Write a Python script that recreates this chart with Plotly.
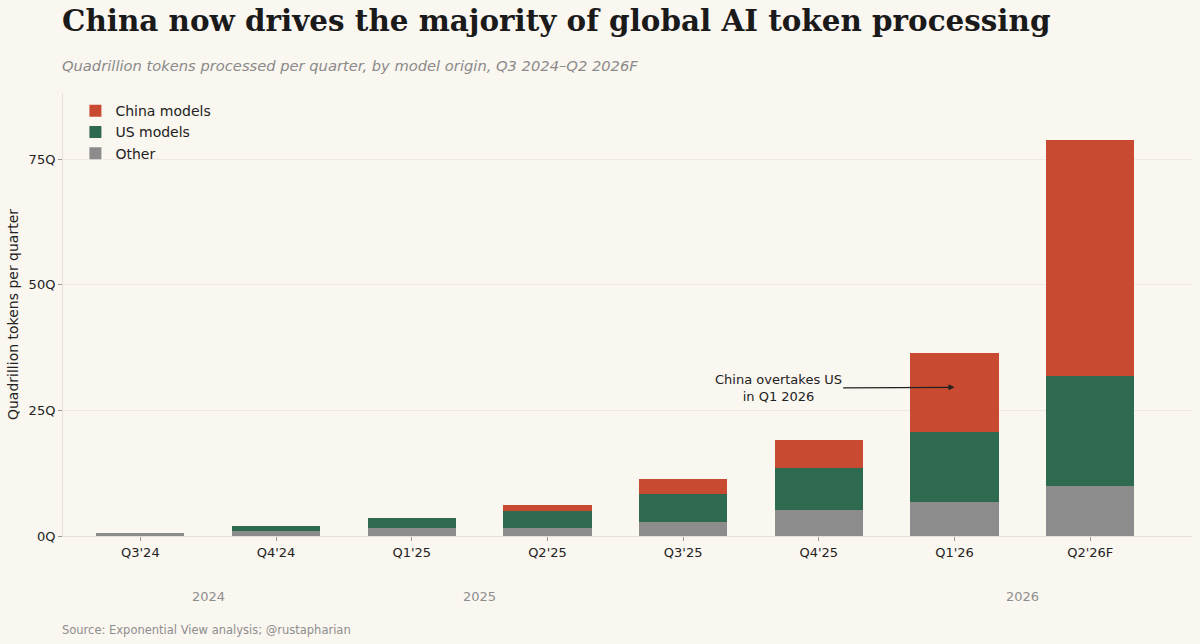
import plotly.graph_objects as go

quarters = ["Q3'24", "Q4'24", "Q1'25", "Q2'25", "Q3'25", "Q4'25", "Q1'26", "Q2'26F"]
other = [0.5, 1.0, 1.6, 1.6, 2.7, 5.2, 6.8, 9.9]
us_models = [0.0, 0.9, 1.9, 3.3, 5.7, 8.3, 14.0, 21.9]
china_models = [0.0, 0.0, 0.0, 1.3, 3.0, 5.7, 15.7, 47.0]

years = ["2024", "2025", "2026"]
year_pos = [0.5, 2.5, 6.5]

BG = "#FAF6F0"

fig = go.Figure()
fig.add_trace(go.Bar(x=quarters, y=other, name="Other", marker_color="#8C8C8C"))
fig.add_trace(go.Bar(x=quarters, y=us_models, name="US models", marker_color="#2D6A4F"))
fig.add_trace(go.Bar(x=quarters, y=china_models, name="China models", marker_color="#C84B31"))

fig.update_traces(marker_line_width=0, width=0.65)

fig.update_layout(
    barmode="stack",
    width=1200, height=644,
    paper_bgcolor=BG, plot_bgcolor=BG,
    margin=dict(l=63, r=8, t=93, b=108),
    font=dict(family="DejaVu Sans", size=13, color="#222222"),
    showlegend=True,
    legend=dict(
        x=0.011, y=0.995, xanchor="left", yanchor="top",
        traceorder="reversed", bgcolor="rgba(0,0,0,0)",
        font=dict(size=14, color="#222222"), itemwidth=30,
        tracegroupgap=0,
    ),
    title=dict(
        text="<b>China now drives the majority of global AI token processing</b>",
        font=dict(family="DejaVu Serif", size=29.4, color="#1a1a1a"),
        x=62 / 1200, xanchor="left", xref="container",
        y=1 - 21 / 644, yanchor="middle", yref="container",
    ),
)

fig.update_xaxes(
    type="category", range=[-0.57, 7.75],
    showgrid=False, showline=True, linecolor="#E6E0D8", linewidth=1,
    ticks="outside", ticklen=4, tickcolor="#999999",
    tickfont=dict(size=13, color="#222222"),
)
fig.update_yaxes(
    range=[0, 88.2], dtick=25, ticksuffix="Q",
    showgrid=True, gridcolor="#EFE9E1", gridwidth=1,
    showline=True, linecolor="#E6E0D8", linewidth=1,
    ticks="outside", ticklen=4, tickcolor="#999999",
    tickfont=dict(size=13, color="#222222"), zeroline=False,
    title=dict(text="Quadrillion tokens per quarter", font=dict(size=14, color="#222222"), standoff=6),
)

fig.add_annotation(
    xref="paper", yref="paper", x=0, y=1 + 28 / 443, xshift=-3,
    xanchor="left", yanchor="middle", showarrow=False,
    text="<i>Quadrillion tokens processed per quarter, by model origin, Q3 2024–Q2 2026F</i>",
    font=dict(size=14.7, color="#8A8A8A"),
)

for yr, pos in zip(years, year_pos):
    fig.add_annotation(
        xref="x", yref="paper", x=pos, y=-60 / 443,
        showarrow=False, text=yr, yanchor="middle",
        font=dict(size=13, color="#8E8E8E"),
    )

fig.add_annotation(
    xref="x", yref="y", x=6, y=29.6,
    ax=4.7, ay=29.4, axref="x", ayref="y",
    text="China overtakes US<br>in Q1 2026", align="center",
    showarrow=True, arrowhead=2, arrowsize=1, arrowwidth=1.2, arrowcolor="#222222",
    font=dict(size=13, color="#222222"),
)

fig.add_annotation(
    xref="paper", yref="paper", x=0, y=-94 / 443, xshift=-3,
    xanchor="left", yanchor="middle", showarrow=False,
    text="Source: Exponential View analysis; @rustapharian",
    font=dict(size=11.5, color="#8E8E8E"),
)

fig.write_html(
    "out.html",
    config={"displayModeBar": False},
    post_script="document.body.style.margin='0';document.body.style.background='%s';" % BG,
)
